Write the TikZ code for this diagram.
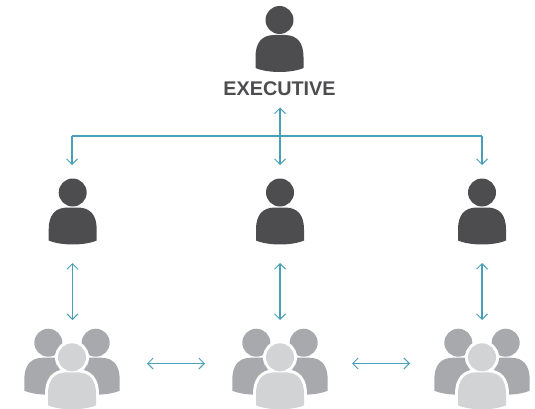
\documentclass[tikz,border=0pt]{standalone}
\usepackage{fontspec}
\setmainfont{Liberation Sans}
\usetikzlibrary{arrows.meta}
\definecolor{darkfig}{HTML}{4D4D4F}
\definecolor{midfig}{HTML}{A7A9AC}
\definecolor{lightfig}{HTML}{D1D3D4}
\definecolor{linkblue}{HTML}{4A9FB8}
\tikzset{
  x=1pt,y=-1pt,
  person/.pic={
    \path[pic actions] (0,0) circle[radius=14];
    \path[pic actions] (-24,48) -- (-24,37)
      .. controls (-24,23) and (-18,15) .. (-5,15) -- (5,15)
      .. controls (18,15) and (24,23) .. (24,37) -- (24,48)
      .. controls (12,53.3) and (-12,53.3) .. (-24,48) -- cycle;
  },
  darkperson/.style={fill=darkfig},
  backperson/.style={fill=midfig},
  frontperson/.style={fill=lightfig},
  ringperson/.style={fill=white,draw=white,line width=6pt,line join=round},
  link/.style={draw=linkblue,line width=1.05pt},
  linkboth/.style={link,{Straight Barb[length=5.5pt,width=11pt,line width=1.05pt]}-{Straight Barb[length=5.5pt,width=11pt,line width=1.05pt]}},
  linkdown/.style={link,-{Straight Barb[length=5.5pt,width=11pt,line width=1.05pt]}},
  label/.style={font=\bfseries\fontsize{19.8pt}{22pt}\selectfont,text=darkfig,inner sep=0pt,anchor=center},
}
\newcommand{\teamat}[1]{%
  \pic[backperson] at ([xshift=-23.7pt,yshift=14.6pt]#1) {person};
  \pic[backperson] at ([xshift=23.7pt,yshift=14.6pt]#1) {person};
  \pic[ringperson] at (#1) {person};
  \pic[frontperson] at (#1) {person};
}
\begin{document}
\begin{tikzpicture}
\useasboundingbox (0,0) rectangle (535,409);
% figure anchors (head centres)
\coordinate (exec) at (279.5,20);
\coordinate (mgrA) at (72.7,192.5);
\coordinate (mgrB) at (280,192.5);
\coordinate (mgrC) at (482,192.5);
\coordinate (teamA) at (72,357.3);
\coordinate (teamB) at (280,357.3);
\coordinate (teamC) at (482,357.3);
\pic[darkperson] at (exec) {person};
\pic[darkperson] at (mgrA) {person};
\pic[darkperson] at (mgrB) {person};
\pic[darkperson] at (mgrC) {person};
\teamat{teamA}
\teamat{teamB}
\teamat{teamC}
\node[label] (title) at (279.5,89) {EXECUTIVE};
% connector ends
\coordinate (busTop) at (280,107.5);
\coordinate (busB) at (280,165);
\coordinate (busA) at (72,165);
\coordinate (busC) at (482,165);
\coordinate (kneeA) at (72,136);
\coordinate (kneeC) at (482,136);
\coordinate (aTop) at (72.5,263);
\coordinate (aBot) at (72.5,320);
\coordinate (bTop) at (280,263);
\coordinate (bBot) at (280,320);
\coordinate (cTop) at (482,263);
\coordinate (cBot) at (482,320);
\coordinate (abL) at (147,363.5);
\coordinate (abR) at (205,363.5);
\coordinate (bcL) at (352,363.5);
\coordinate (bcR) at (410,363.5);
\draw[linkboth] (busTop) -- (busB);
\draw[linkdown] (kneeA) -- (busA);
\draw[linkdown] (kneeC) -- (busC);
\draw[link] (kneeA) -- (kneeC);
\draw[linkboth] (aTop) -- (aBot);
\draw[linkboth] (bTop) -- (bBot);
\draw[linkboth] (cTop) -- (cBot);
\draw[linkboth] (abL) -- (abR);
\draw[linkboth] (bcL) -- (bcR);
\end{tikzpicture}
\end{document}
